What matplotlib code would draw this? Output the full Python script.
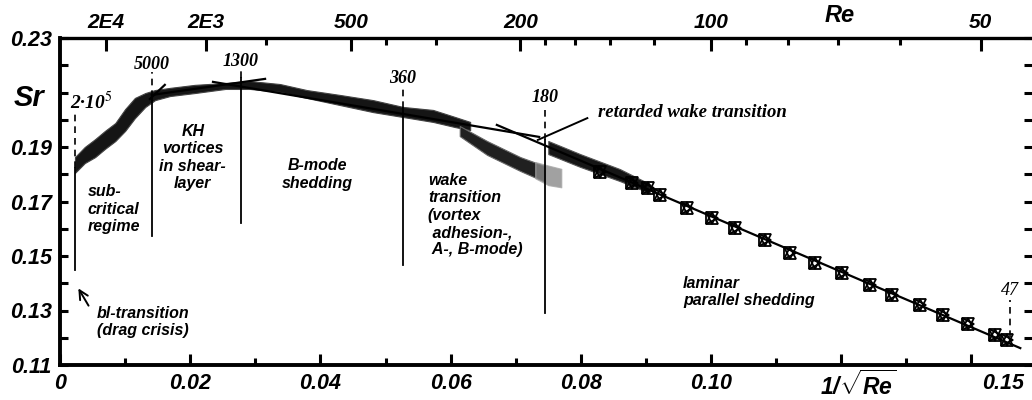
import numpy as np
import matplotlib.pyplot as plt

plt.rcParams['font.family'] = ['Liberation Sans', 'DejaVu Sans']
plt.rcParams['mathtext.fontset'] = 'custom'
plt.rcParams['mathtext.rm'] = 'Liberation Sans:italic:bold'
plt.rcParams['mathtext.it'] = 'Liberation Sans:italic:bold'
plt.rcParams['mathtext.bf'] = 'Liberation Sans:italic:bold'

# dense cloud of measurements, subcritical -> B-mode (upper / lower edge)
band_x = [0.0023, 0.0038, 0.0054, 0.0069, 0.0085, 0.0100, 0.0115, 0.0131, 0.0146,
          0.0169, 0.0207, 0.0254, 0.0292, 0.0338, 0.0379, 0.0430, 0.0481, 0.0527,
          0.0573, 0.0607, 0.0630]
band_top = [0.1863, 0.1900, 0.1929, 0.1959, 0.1988, 0.2039, 0.2080, 0.2098, 0.2109,
            0.2117, 0.2128, 0.2135, 0.2142, 0.2131, 0.2109, 0.2091, 0.2072, 0.2047,
            0.2036, 0.2010, 0.1992]
band_bot = [0.1805, 0.1841, 0.1863, 0.1893, 0.1922, 0.1959, 0.2006, 0.2047, 0.2072,
            0.2087, 0.2098, 0.2113, 0.2113, 0.2102, 0.2080, 0.2054, 0.2028, 0.2010,
            0.1992, 0.1973, 0.1962]

# wake transition branch (dense part, then loose scatter)
wake_x = [0.0614, 0.0656, 0.0707, 0.0745]
wake_top = [0.1977, 0.1922, 0.1863, 0.1830]
wake_bot = [0.1940, 0.1871, 0.1812, 0.1772]
wake_tail_x = [0.0730, 0.0750, 0.0770]
wake_tail_top = [0.1845, 0.1832, 0.1820]
wake_tail_bot = [0.1785, 0.1760, 0.1752]

# start of laminar branch (dense)
lamband_x = [0.0750, 0.0799, 0.0860, 0.0906]
lamband_top = [0.1922, 0.1874, 0.1819, 0.1764]
lamband_bot = [0.1874, 0.1827, 0.1775, 0.1731]

# laminar symbols
lam_x = [0.0830, 0.0879, 0.0903, 0.0922, 0.0963, 0.1002, 0.1037, 0.1083, 0.1121,
         0.1160, 0.1201, 0.1244, 0.1278, 0.1321, 0.1356, 0.1395, 0.1436, 0.1455]
lam_sr = [0.1808, 0.1768, 0.1750, 0.1724, 0.1676, 0.1639, 0.1603, 0.1559, 0.1511,
          0.1474, 0.1438, 0.1394, 0.1357, 0.1320, 0.1284, 0.1251, 0.1210, 0.1192]

# fitted lines
fit_sub_x, fit_sub_sr = [0.0138, 0.0161], [0.2076, 0.2128]
fit_kh_x, fit_kh_sr = [0.0141, 0.0315], [0.2091, 0.2150]
fit_b_x, fit_b_sr = [0.0235, 0.0736], [0.2139, 0.1937]
fit_lam_x, fit_lam_sr = [0.0671, 0.1475], [0.1981, 0.1162]

# regime boundaries
bound_re = [2e5, 5000, 1300, 360, 180, 47]
bound_lbl = ['2·10$^{5}$', '5000', '1300', '360', '180', '47']
dash_top = [0.2036, 0.2175, 0.2190, 0.2124, 0.2050, 0.1339]
dash_bot = [0.1823, 0.2083, 0.2153, 0.2043, 0.1926, 0.1203]
solid_bot = [0.1449, 0.1573, 0.1621, 0.1467, 0.1291, None]
lbl_y = [0.2065, 0.2201, 0.2212, 0.2153, 0.2083, 0.1375]

# top Reynolds axis
re_major = [2e4, 2e3, 500, 200, 100, 50]
re_major_lbl = ['2E4', '2E3', '500', '200', '100', '50']
re_minor = [1000, 400, 300, 180, 160, 140, 120, 90, 80, 70, 60]

x_major = [0, 0.02, 0.04, 0.06, 0.08, 0.10, 0.12, 0.14]
x_major_lbl = ['0', '0.02', '0.04', '0.06', '0.08', '0.10', '', '']
y_major = [0.11, 0.13, 0.15, 0.17, 0.19, 0.21, 0.23]
y_major_lbl = ['0.11', '0.13', '0.15', '0.17', '0.19', '', '0.23']

fig = plt.figure(figsize=(10.32, 4), dpi=100)
ax = fig.add_axes([60 / 1032, 35 / 400, 972 / 1032, 327 / 400])
ax.set_xlim(0, 0.1493)
ax.set_ylim(0.11, 0.23)

bf = dict(fontweight='bold', fontstyle='italic')
serif = dict(family='Liberation Serif', fontstyle='italic', math_fontfamily='stix')

# data
ax.fill_between(band_x, band_bot, band_top, color='#151515', lw=0.8, ec='#444444')
ax.fill_between(wake_x, wake_bot, wake_top, color='#202020', lw=0.8, ec='#666666')
ax.fill_between(wake_tail_x, wake_tail_bot, wake_tail_top, color='#8a8a8a', lw=0.8,
                ec='#aaaaaa', alpha=0.8)
ax.fill_between(lamband_x, lamband_bot, lamband_top, color='#151515', lw=0.8, ec='#555555')
for m in ['^', 'v', '>']:
    ax.plot(lam_x, lam_sr, ls='none', marker=m, ms=9, mfc='none', mec='black', mew=1.3)

for fx, fy in [(fit_sub_x, fit_sub_sr), (fit_kh_x, fit_kh_sr),
               (fit_b_x, fit_b_sr), (fit_lam_x, fit_lam_sr)]:
    ax.plot(fx, fy, color='black', lw=1.6)

# regime boundaries
for re, lbl, dt, db, sb, ly in zip(bound_re, bound_lbl, dash_top, dash_bot, solid_bot, lbl_y):
    xb = 1 / np.sqrt(re)
    ax.plot([xb, xb], [db, dt], color='black', lw=1.2, ls=(0, (4, 3)))
    if sb is not None:
        ax.plot([xb, xb], [sb, db], color='black', lw=1.3)
    if re == 2e5:
        ax.text(xb - 0.0007, ly, lbl, ha='left', va='center', fontsize=14,
                fontweight='bold', **serif)
    else:
        ax.text(xb, ly, lbl, ha='center', va='center', fontsize=13,
                fontweight='bold' if re != 47 else 'normal', **serif)

# regime texts
txt = dict(linespacing=1.2, fontsize=11.5, **bf)
ax.text(0.0043, 0.1672, 'sub-\ncritical\nregime', ha='left', va='center', **txt)
ax.text(0.0204, 0.1861, 'KH\nvortices\nin shear-\nlayer', ha='center', va='center',
        multialignment='center', **txt)
ax.text(0.0395, 0.1799, 'B-mode\nshedding', ha='center', va='center',
        multialignment='center', **txt)
ax.text(0.0565, 0.1650, 'wake\ntransition\n(vortex\n adhesion-,\n A-, B-mode)',
        ha='left', va='center', **txt)
ax.text(0.0957, 0.1368, 'laminar\nparallel shedding', ha='left', va='center', **txt)
ax.text(0.0057, 0.1258, 'bl-transition\n(drag crisis)', ha='left', va='center', **txt)
ax.annotate('', xy=(0.0026, 0.1390), xytext=(0.0046, 0.1309),
            arrowprops=dict(arrowstyle='->', lw=1.4, color='black', mutation_scale=16))
ax.text(0.0826, 0.2025, 'retarded wake transition', ha='left', va='center',
        fontsize=13.5, fontweight='bold', **serif)
ax.plot([0.0734, 0.0810], [0.1926, 0.2006], color='black', lw=1.4)

# axes styling
for s in ['left', 'bottom']:
    ax.spines[s].set_linewidth(2.8)
ax.spines['top'].set_linewidth(2.4)
ax.spines['right'].set_visible(False)

ax.set_xticks(x_major)
ax.set_xticklabels(x_major_lbl)
ax.set_xticks(np.arange(0.01, 0.15, 0.02), minor=True)
ax.set_yticks(y_major)
ax.set_yticklabels(y_major_lbl)
ax.set_yticks(np.arange(0.12, 0.225, 0.02), minor=True)
ax.tick_params(axis='x', which='major', direction='in', length=8, width=2.2,
               pad=6, labelsize=15.5, top=False)
ax.tick_params(axis='x', which='minor', direction='in', length=5, width=2.2, top=False)
ax.tick_params(axis='y', which='both', direction='in', length=6, width=2.2,
               pad=6, labelsize=15.5, right=True)
for t in ax.get_xticklabels() + ax.get_yticklabels():
    t.set_fontweight('bold')
    t.set_fontstyle('italic')

ax.text(0.1449, -0.058, '0.15', transform=ax.get_xaxis_transform(), ha='center',
        va='center', fontsize=15.5, **bf)
ax.text(0.1226, -0.018, r'$1/\sqrt{Re}$', transform=ax.get_xaxis_transform(),
        ha='center', va='top', fontsize=16.5)
ax.text(-0.032, 0.815, 'Sr', transform=ax.transAxes, ha='center', va='center',
        fontsize=21, **bf)

# top Reynolds axis
ax2 = ax.twiny()
ax2.set_xlim(ax.get_xlim())
ax2.set_xticks([1 / np.sqrt(r) for r in re_major])
ax2.set_xticklabels(re_major_lbl)
ax2.set_xticks([1 / np.sqrt(r) for r in re_minor], minor=True)
ax2.tick_params(axis='x', which='major', direction='in', length=9, width=2.2,
                pad=4, labelsize=15)
ax2.tick_params(axis='x', which='minor', direction='in', length=5, width=2.2)
for t in ax2.get_xticklabels():
    t.set_fontweight('bold')
    t.set_fontstyle('italic')
for s in ax2.spines.values():
    s.set_visible(False)
ax2.text(1 / np.sqrt(70) + 0.0003, 1.07, 'Re', transform=ax2.get_xaxis_transform(),
         ha='center', va='center', fontsize=17, **bf)

fig.savefig('out.png', dpi=100)
